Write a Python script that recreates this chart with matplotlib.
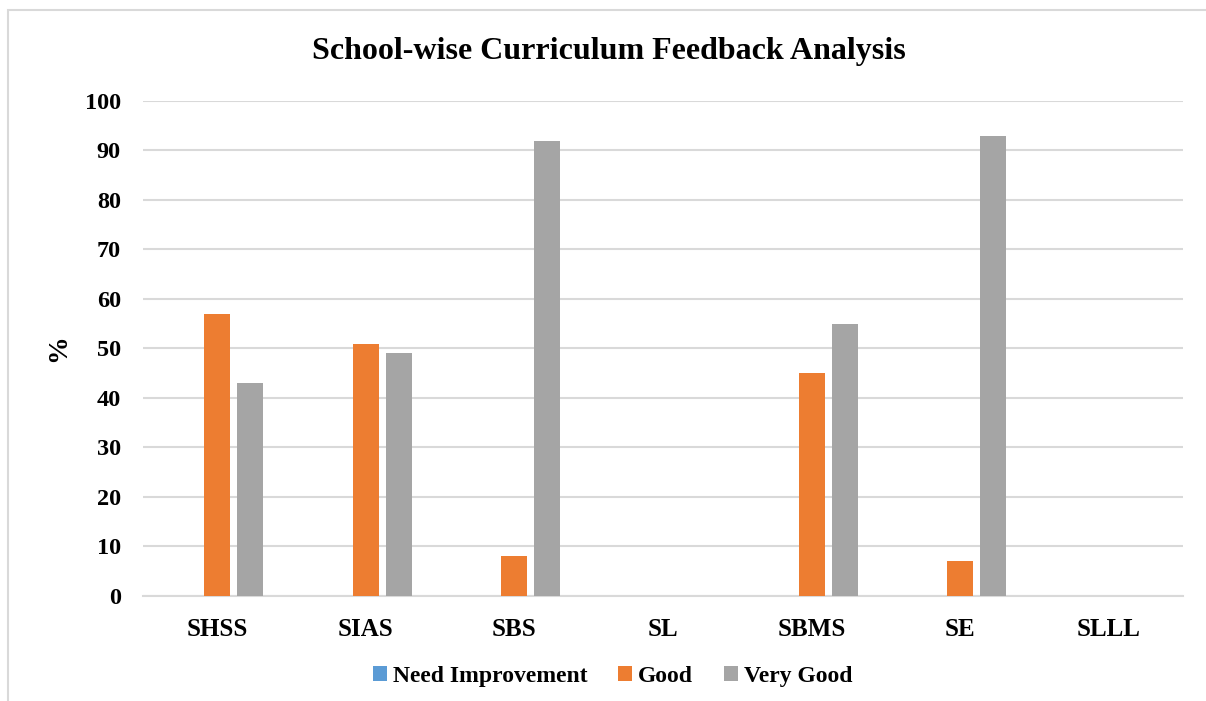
import numpy as np
import matplotlib.pyplot as plt
from matplotlib.patches import Rectangle

# data
schools = ["SHSS", "SIAS", "SBS", "SL", "SBMS", "SE", "SLLL"]
need_improvement = [0, 0, 0, 0, 0, 0, 0]
good = [57, 51, 8, 0, 45, 7, 0]
very_good = [43, 49, 92, 0, 55, 93, 0]
series_names = ["Need Improvement", "Good", "Very Good"]
colors = ["#5b9bd5", "#ed7d31", "#a5a5a5"]
yticks = list(range(0, 101, 10))

plt.rcParams['font.family'] = ['Liberation Serif', 'DejaVu Serif']
plt.rcParams['font.weight'] = 'bold'

fig = plt.figure(figsize=(12.06, 7.01), dpi=100)
ax = fig.add_axes([0.1186, 0.1498, 0.8624, 0.7062])

# light chart border like the office chart frame
fig.patches.append(Rectangle((8 / 1206, -0.05), 1.1, 1 - 10 / 701 + 0.05,
                             transform=fig.transFigure, fill=False,
                             edgecolor="#d9d9d9", linewidth=1.5))

x = np.arange(len(schools))
width = 0.175
step = 0.222
for i, (vals, name) in enumerate(zip([need_improvement, good, very_good], series_names)):
    ax.bar(x + (i - 1) * step, vals, width, color=colors[i], label=name, zorder=3)

ax.set_xlim(-0.5, len(schools) - 0.5)
ax.set_ylim(0, 100)
ax.set_yticks(yticks)
ax.set_xticks(x)
ax.set_xticklabels(schools, fontsize=18, fontweight='bold')
ax.set_yticklabels([str(t) for t in yticks], fontsize=17.5, fontweight='bold')
ax.tick_params(length=0, pad=16, axis='y')
ax.tick_params(length=0, pad=16, axis='x')
ax.grid(axis='y', color="#d9d9d9", linewidth=1.5, zorder=0)
for s in ["top", "right", "left"]:
    ax.spines[s].set_visible(False)
ax.spines["bottom"].set_color("#d9d9d9")
ax.spines["bottom"].set_linewidth(1.5)

ax.set_ylabel("%", fontsize=20, fontweight='bold', labelpad=10)
fig.text(0.505, 0.927, "School-wise Curriculum Feedback Analysis",
         ha='center', va='center', fontsize=23, fontweight='bold')

leg = ax.legend(loc='center', bbox_to_anchor=(0.5 - (0.1186 + 0.8624 / 2 - 0.508) / 0.8624, -0.163),
                ncol=3, frameon=False, handlelength=0.6, handleheight=0.6,
                handletextpad=0.25, columnspacing=1.3, prop={'weight': 'bold', 'size': 17})

fig.savefig("out.png", dpi=100)
